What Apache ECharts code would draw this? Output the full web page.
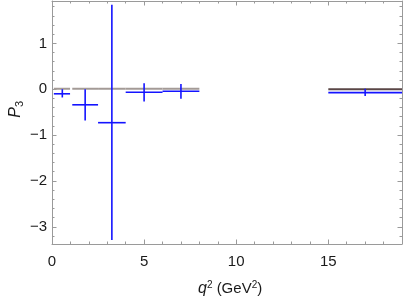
<!DOCTYPE html>
<html><head><meta charset="utf-8">
<script src="https://cdn.jsdelivr.net/npm/echarts@6/dist/echarts.min.js"></script>
<style>html,body{margin:0;padding:0;background:#fff}#c{width:403px;height:301px}</style>
</head><body><div id="c"></div>
<script>
// Measured bins (q^2 in GeV^2)
const binLow   = [0.1, 1.1, 2.5, 4.0, 6.0, 15.0];
const binHigh  = [0.98, 2.5, 4.0, 6.0, 8.0, 19.0];
const binMid   = [0.56, 1.8, 3.25, 5.0, 7.0, 17.0];
const p3Value  = [-0.10, -0.34, -0.73, -0.066, -0.046, -0.075];
const p3Upper  = [0.0, 0.0, 1.84, 0.13, 0.115, 0.01];
const p3Lower  = [-0.18, -0.68, -3.29, -0.27, -0.21, -0.15];
// SM prediction segments
const smLow    = [0.1, 1.1, 2.5, 4.0, 6.0, 15.0];
const smHigh   = [0.98, 2.5, 4.0, 6.0, 8.0, 19.0];
const smValue  = [0.01, 0.01, 0.01, 0.01, 0.01, 0.0];
const smColor  = ['#a39a96', '#a39a96', '#a39a96', '#a39a96', '#a39a96', '#5a4646'];
// ticks
const xMajorTicks = [0, 5, 10, 15];
const xMinorTicks = [1, 2, 3, 4, 6, 7, 8, 9, 11, 12, 13, 14, 16, 17, 18];
const yMajorTicks = [-3, -2, -1, 0, 1];
const yMinorTicks = [-3.2, -2.8, -2.6, -2.4, -2.2, -1.8, -1.6, -1.4, -1.2, -0.8, -0.6, -0.4, -0.2,
                     0.2, 0.4, 0.6, 0.8, 1.2, 1.4, 1.6, 1.8];

const X_MIN = 0, X_MAX = 19, Y_MIN = -3.376, Y_MAX = 1.924;
const axisGray = '#9a9a9a';
const fmt = v => (v < 0 ? '\u2212' + (-v) : '' + v);

function xAx(pos, ticks, len, labels, line) {
  return {
    type: 'value', position: pos, min: X_MIN, max: X_MAX,
    axisLine: {show: line, onZero: false, lineStyle: {color: axisGray, width: 1}},
    axisTick: {show: true, inside: true, length: len, customValues: ticks, lineStyle: {color: axisGray, width: 1}},
    axisLabel: labels ? {show: true, customValues: ticks, formatter: fmt, fontFamily: 'Liberation Sans', fontSize: 15, color: '#1a1a1a', margin: 10} : {show: false},
    splitLine: {show: false}
  };
}
function yAx(pos, ticks, len, labels, line) {
  return {
    type: 'value', position: pos, min: Y_MIN, max: Y_MAX,
    axisLine: {show: line, onZero: false, lineStyle: {color: axisGray, width: 1}},
    axisTick: {show: true, inside: true, length: len, customValues: ticks, lineStyle: {color: axisGray, width: 1}},
    axisLabel: labels ? {show: true, customValues: ticks, formatter: fmt, fontFamily: 'Liberation Sans', fontSize: 15, color: '#1a1a1a', margin: 5} : {show: false},
    splitLine: {show: false}
  };
}

const errData = binLow.map((lo, i) => [lo, binHigh[i], binMid[i], p3Value[i], p3Lower[i], p3Upper[i]]);
const smData = smLow.map((lo, i) => [lo, smHigh[i], smValue[i], i]);

const chart = echarts.init(document.getElementById('c'), null, {renderer: 'canvas'});
chart.setOption({
  animation: false,
  backgroundColor: '#fff',
  grid: {left: 52, right: 1, top: 1, bottom: 57},
  xAxis: [
    xAx('bottom', xMajorTicks, 4.5, true, true),
    xAx('bottom', xMinorTicks, 2.5, false, false),
    xAx('top', xMajorTicks, 4.5, false, true),
    xAx('top', xMinorTicks, 2.5, false, false)
  ],
  yAxis: [
    yAx('left', yMajorTicks, 4.5, true, true),
    yAx('left', yMinorTicks, 2.5, false, false),
    yAx('right', yMajorTicks, 4.5, false, true),
    yAx('right', yMinorTicks, 2.5, false, false)
  ],
  graphic: [
    {type: 'text', left: 8, top: 101, rotation: Math.PI / 2, style: {
      text: '{i|P}{s|3}', rich: {
        i: {fontFamily: 'Liberation Sans', fontStyle: 'italic', fontSize: 16, fill: '#1a1a1a'},
        s: {fontFamily: 'Liberation Sans', fontSize: 11, fill: '#1a1a1a', verticalAlign: 'bottom', padding: [7, 0, 0, 0]}
      }}},
    {type: 'text', left: 198, top: 280, style: {
      text: '{i|q}{sup|2}{n| (GeV}{sup|2}{n|)}', rich: {
        i: {fontFamily: 'Liberation Sans', fontStyle: 'italic', fontSize: 16, fill: '#1a1a1a'},
        n: {fontFamily: 'Liberation Sans', fontSize: 15, fill: '#1a1a1a'},
        sup: {fontFamily: 'Liberation Sans', fontSize: 10, fill: '#1a1a1a', padding: [0, 0, 8, 0]}
      }}}
  ],
  series: [
    {
      type: 'custom', xAxisIndex: 0, yAxisIndex: 0, data: smData, clip: true,
      renderItem: (params, api) => {
        const a = api.coord([api.value(0), api.value(2)]);
        const b = api.coord([api.value(1), api.value(2)]);
        return {type: 'line', shape: {x1: a[0], y1: a[1], x2: b[0], y2: b[1]},
          style: {stroke: smColor[api.value(3)], lineWidth: 2}};
      }
    },
    {
      type: 'custom', xAxisIndex: 0, yAxisIndex: 0, data: errData, clip: true,
      renderItem: (params, api) => {
        const h1 = api.coord([api.value(0), api.value(3)]);
        const h2 = api.coord([api.value(1), api.value(3)]);
        const v1 = api.coord([api.value(2), api.value(4)]);
        const v2 = api.coord([api.value(2), api.value(5)]);
        const st = {stroke: '#1414ff', lineWidth: 1.6};
        return {type: 'group', children: [
          {type: 'line', shape: {x1: h1[0], y1: h1[1], x2: h2[0], y2: h2[1]}, style: st},
          {type: 'line', shape: {x1: v1[0], y1: v1[1], x2: v2[0], y2: v2[1]}, style: st}
        ]};
      }
    }
  ]
});
</script></body></html>
